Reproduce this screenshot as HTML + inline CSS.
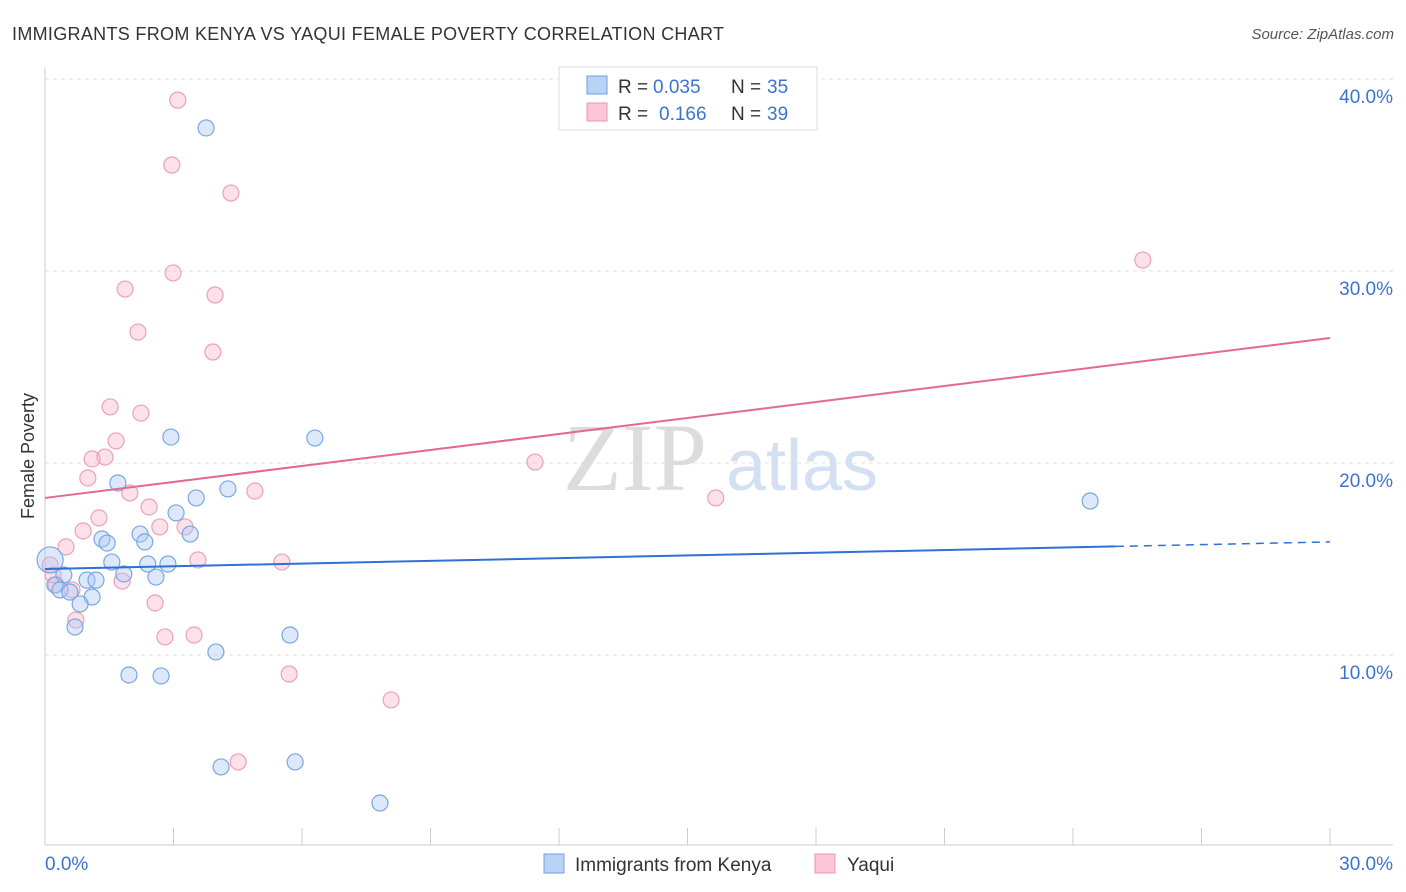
<!DOCTYPE html>
<html><head><meta charset="utf-8"><style>
body{margin:0;background:#fff;font-family:"Liberation Sans",sans-serif}
svg{display:block}
</style></head><body>
<svg width="1406" height="892" xmlns="http://www.w3.org/2000/svg">
<text x="12" y="40" font-size="18" fill="#333" textLength="712">IMMIGRANTS FROM KENYA VS YAQUI FEMALE POVERTY CORRELATION CHART</text>
<text x="1394" y="39" font-size="15" fill="#555" font-style="italic" text-anchor="end">Source: ZipAtlas.com</text>
<g id="grid"></g>
<text x="635" y="490" font-size="96" fill="#dcdcdc" font-family="Liberation Serif" text-anchor="middle">ZIP</text>
<text x="802" y="490" font-size="72" fill="#d3e0f2" text-anchor="middle">atlas</text>
<text x="34" y="456" font-size="18" fill="#333" text-anchor="middle" transform="rotate(-90 34 456)">Female Poverty</text>
<g id="marks"></g>
<g>
<rect x="559" y="67" width="258" height="63" fill="#fff" stroke="#ddd"/>
<rect x="587" y="76" width="20" height="18" fill="#b9d3f5" stroke="#6e9fe0"/>
<rect x="587" y="103" width="20" height="18" fill="#fbc6d6" stroke="#ec93b0"/>
<text x="618" y="93" font-size="19" fill="#333">R = <tspan x="653" fill="#3b73d1">0.035</tspan></text>
<text x="731" y="93" font-size="19" fill="#333">N = <tspan x="767" fill="#3b73d1">35</tspan></text>
<text x="618" y="120" font-size="19" fill="#333">R = <tspan x="659" fill="#3b73d1">0.166</tspan></text>
<text x="731" y="120" font-size="19" fill="#333">N = <tspan x="767" fill="#3b73d1">39</tspan></text>
</g>
<g>
<rect x="544" y="854" width="20" height="19" fill="#b9d3f5" stroke="#6e9fe0"/>
<text x="575" y="871" font-size="19" fill="#333">Immigrants from Kenya</text>
<rect x="815" y="854" width="20" height="19" fill="#fbc6d6" stroke="#ec93b0"/>
<text x="847" y="871" font-size="19" fill="#333">Yaqui</text>
</g>
</svg>
<script>
const yTicks=[10,20,30,40];
const xTickLabels=["0.0%","30.0%"];
const kenyaX=[3.76,2.94,6.30,1.70,3.53,4.27,24.40,3.06,2.22,3.39,1.33,1.45,2.33,1.56,2.40,2.87,0.12,0.44,1.84,2.59,0.98,1.19,0.23,0.35,0.58,1.10,0.82,0.70,5.72,3.99,1.96,2.71,4.11,5.84,7.82];
const kenyaY=[37.45,21.35,21.3,18.96,18.18,18.65,18.02,17.40,16.30,16.30,16.04,15.83,15.89,14.84,14.74,14.74,14.95,14.17,14.22,14.06,13.9,13.9,13.65,13.39,13.28,13.02,12.66,11.46,11.04,10.16,8.96,8.91,4.17,4.43,2.29];
const yaquiX=[3.10,2.96,4.34,25.63,2.99,1.87,3.97,2.17,3.92,1.52,2.24,1.66,1.10,1.40,11.44,1.00,1.98,4.90,15.66,2.43,1.26,2.68,3.27,0.89,0.49,3.57,5.53,0.12,0.19,1.80,0.63,2.57,0.72,2.80,3.48,5.70,8.08,4.51,0.26];
const yaquiY=[38.9,35.52,34.06,30.57,29.9,29.06,28.75,26.82,25.78,22.92,22.6,21.15,20.21,20.31,20.05,19.22,18.44,18.54,18.18,17.71,17.14,16.67,16.67,16.46,15.63,14.95,14.84,14.69,14.17,13.85,13.39,12.71,11.82,10.94,11.04,9.01,7.66,4.43,13.65];
const kenyaTrend=[14.48,15.89];
const yaquiTrend=[18.18,26.51];
const NS="http://www.w3.org/2000/svg";
const sx=v=>45+v/30*1285, sy=v=>847-v*19.2;
function mk(t,a,p){const e=document.createElementNS(NS,t);for(const k in a)e.setAttribute(k,a[k]);p.appendChild(e);return e;}
const grid=document.getElementById('grid'), marks=document.getElementById('marks');
yTicks.forEach(t=>{
 const l=mk('line',{x1:45,x2:1393,y1:sy(t),y2:sy(t),stroke:'#e2e2e2','stroke-dasharray':'4,4'},grid);
 
 
 const tx=mk('text',{x:1393,y:sy(t)+24,'font-size':19,fill:'#3b73d1','text-anchor':'end'},grid);
 tx.textContent=t.toFixed(1)+'%';
 
 
});
const ax=mk('line',{x1:45,x2:1393,y1:845,y2:845,stroke:'#ccc'},grid);


const ay=mk('line',{x1:45,x2:45,y1:68,y2:845,stroke:'#ccc'},grid);


for(let i=1;i<=10;i++){
 const t=mk('line',{x1:sx(i*3),x2:sx(i*3),y1:828,y2:845,stroke:'#ccc'},grid);
 
 
}
[0,30].forEach((v,i)=>{
 const t=mk('text',{x:i?1393:45,y:870,'font-size':19,fill:'#3b73d1','text-anchor':i?'end':'start'},grid);
 t.textContent=xTickLabels[i];
 
 
});
yaquiX.forEach((x,i)=>{
 const c=mk('circle',{cx:sx(x),cy:sy(yaquiY[i]),r:8,fill:'rgba(248,180,200,0.4)',stroke:'#eca0b8','stroke-width':1.2},marks);
 
 
});
kenyaX.forEach((x,i)=>{
 const c=mk('circle',{cx:sx(x),cy:sy(kenyaY[i]),r:(i===16?13:8),fill:'rgba(170,200,245,0.4)',stroke:'#7aa6e4','stroke-width':1.2},marks);
 
 
});
const bx=25;
const l1=mk('line',{x1:sx(0),y1:sy(kenyaTrend[0]),x2:sx(bx),y2:sy(kenyaTrend[0]+(kenyaTrend[1]-kenyaTrend[0])*bx/30),stroke:'#2f6fd6','stroke-width':2},marks);


const l2=mk('line',{x1:sx(bx),y1:sy(kenyaTrend[0]+(kenyaTrend[1]-kenyaTrend[0])*bx/30),x2:sx(30),y2:sy(kenyaTrend[1]),stroke:'#2f6fd6','stroke-width':1.5,'stroke-dasharray':'8,6'},marks);


const l3=mk('line',{x1:sx(0),y1:sy(yaquiTrend[0]),x2:sx(30),y2:sy(yaquiTrend[1]),stroke:'#e4698f','stroke-width':2},marks);


</script>
</body></html>
